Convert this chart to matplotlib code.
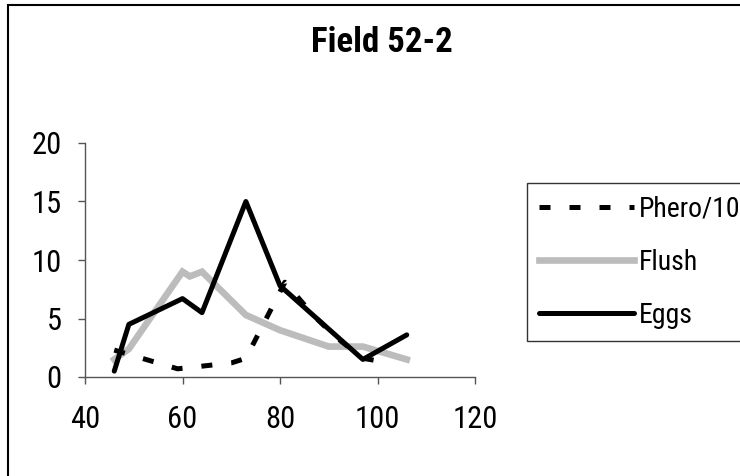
import matplotlib.pyplot as plt
from matplotlib.patches import Rectangle

# narrow sans first, whichever is installed
plt.rcParams['font.family'] = ['Liberation Sans Narrow', 'Arial Narrow', 'Roboto Condensed',
                               'PT Sans Narrow', 'Archivo Narrow', 'Liberation Sans',
                               'DejaVu Sans']

# values
phero_x = [46, 59, 70, 73, 81, 87, 91.5, 97, 102.5]
phero_y = [2.3, 0.7, 1.2, 1.6, 8.1, 5.2, 3.4, 1.6, 1.2]

flush_x = [46, 49, 60, 61.5, 64, 73, 80, 90, 97, 106]
flush_y = [1.5, 2.4, 9.0, 8.6, 9.0, 5.3, 4.0, 2.6, 2.6, 1.5]

eggs_x = [46, 49, 60, 64, 73, 80, 97, 106]
eggs_y = [0.5, 4.5, 6.7, 5.5, 15.0, 7.8, 1.5, 3.6]

x_ticks = [40, 60, 80, 100, 120]
y_ticks = [0, 5, 10, 15, 20]

W, H = 740, 476
fig = plt.figure(figsize=(W / 100, H / 100), dpi=100)
ax = fig.add_axes([85 / W, 1 - 377 / H, 390 / W, 234 / H])

ax.plot(flush_x, flush_y, color='#bcbcbc', lw=4.8, solid_joinstyle='miter',
        label='Flush', zorder=2)
ax.plot(phero_x, phero_y, color='black', lw=3.6, linestyle=(0, (2.2, 3.8)),
        dash_capstyle='butt', label='Phero/10', zorder=3)
ax.plot(eggs_x, eggs_y, color='black', lw=3.6, solid_capstyle='round',
        label='Eggs', zorder=4)

ax.set_xlim(40, 120)
ax.set_ylim(0, 20)
ax.set_xticks(x_ticks)
ax.set_yticks(y_ticks)
ax.tick_params(axis='both', direction='out', length=5, width=1, color='#555555',
               labelsize=22)
ax.tick_params(axis='x', pad=15)
ax.tick_params(axis='y', pad=12)
for side in ['top', 'right']:
    ax.spines[side].set_visible(False)
for side in ['left', 'bottom']:
    ax.spines[side].set_color('#555555')
    ax.spines[side].set_linewidth(1)
ax.spines['bottom'].set_zorder(5)

handles, labels = ax.get_legend_handles_labels()
order = [labels.index(n) for n in ['Phero/10', 'Flush', 'Eggs']]
leg = ax.legend([handles[i] for i in order], [labels[i] for i in order],
                loc='upper left', bbox_to_anchor=(527 / W, 1 - 183 / H),
                bbox_transform=fig.transFigure, fontsize=20, frameon=True,
                fancybox=False, edgecolor='black', borderpad=0.44,
                handlelength=3.4, handletextpad=0.18, labelspacing=0.95,
                borderaxespad=0)
leg.get_frame().set_linewidth(1)

fig.text(382 / W, 1 - 43 / H, 'Field 52-2', ha='center', va='center',
         fontsize=25, fontweight='bold')

# outer chart border, right and bottom edges fall outside the picture
fig.add_artist(Rectangle((8 / W, -0.1), 1.2, 1.1 - 5 / H, transform=fig.transFigure,
                         fill=False, edgecolor='black', lw=1.5))

fig.canvas.draw()
# the reference legend box runs past the right edge of the picture
leg.get_frame().set_width(400)

fig.savefig('out.png', dpi=100)
